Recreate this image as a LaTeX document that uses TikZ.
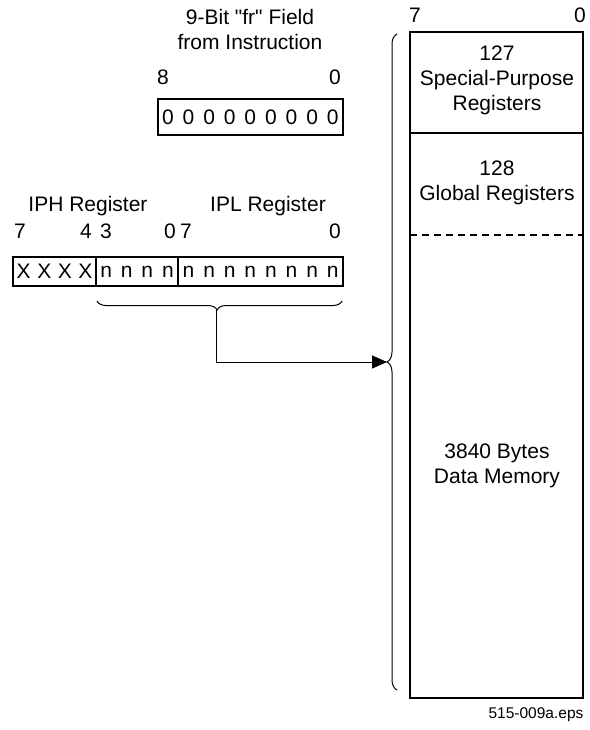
\documentclass[tikz,border=0pt]{standalone}
\usepackage{fontspec}
\setmainfont{Liberation Sans}[Ligatures=TeXOff]
\usepackage{tikz}
\usetikzlibrary{positioning}
\usetikzlibrary{arrows.meta}
\usetikzlibrary{decorations.pathreplacing}

\newcommand{\bitwd}{20.6}

\begin{document}
\begin{tikzpicture}
[   x=1pt, y=-1pt,
    font = \fontsize{21}{25}\selectfont,
    inner sep=0pt,
    outer sep=0pt,
    field/.style={draw, line width=2pt},
    txt/.style={align=center},
    bitnum/.style={anchor=center},
    curly/.style={decorate, line width=1pt}
]

\useasboundingbox (0,0) rectangle (589,730);

% fr field from the instruction
\node[txt] (frtitle) at (250,29.5) {9-Bit "fr" Field\\from Instruction};
\node[bitnum] (fr8) at (163,77) {8};
\node[bitnum] (fr0) at (335,77) {0};
\node[field, anchor=north east, minimum width=9*\bitwd, minimum height=36] (fr) at (343,99) {};
\foreach \i in {0,...,8}
    \node at ([xshift={(\i+0.5)*\bitwd}]fr.west) {0};

% IPH / IPL registers
\node[txt] (iphtitle) at (88,206) {IPH Register};
\node[txt] (ipltitle) at (268,206) {IPL Register};
\node[field, anchor=north west, minimum width=4*\bitwd, minimum height=29] (iphx) at (13.4,257) {};
\node[field, right=0pt of iphx, minimum width=4*\bitwd, minimum height=29] (iphn) {};
\node[field, right=0pt of iphn, minimum width=8*\bitwd, minimum height=29] (ipl) {};
\foreach \i in {0,...,3} {
    \node at ([xshift={(\i+0.5)*\bitwd}]iphx.west) {X};
    \node at ([xshift={(\i+0.5)*\bitwd}]iphn.west) {n};
}
\foreach \i in {0,...,7}
    \node at ([xshift={(\i+0.5)*\bitwd}]ipl.west) {n};
\node[bitnum] (iph7) at (20,231) {7};
\node[bitnum] (iph4) at (86,231) {4};
\node[bitnum] (iph3) at (106,231) {3};
\node[bitnum] (iph0) at (170,231) {0};
\node[bitnum] (ipl7) at (186,231) {7};
\node[bitnum] (ipl0) at (335,231) {0};

% data memory
\node[bitnum] (mem7) at (415,15) {7};
\node[bitnum] (mem0) at (580,15) {0};
\node[field, anchor=north west, minimum width=173, minimum height=666] (mem) at (410,32) {};
\draw[field] (mem.west |- 0,133) -- (mem.east |- 0,133);
\draw[field, dash pattern=on 7pt off 5pt] (mem.west |- 0,235) -- (mem.east |- 0,235);
\node[txt] (sfr) at (497,80.5) {127\\Special-Purpose\\Registers};
\node[txt] (gpr) at (497,182.5) {128\\Global Registers};
\node[txt] (ram) at (497,466) {3840 Bytes\\Data Memory};

% braces and connector
\draw[curly, decoration={brace, amplitude=9pt, aspect=0.51}] (342,301) -- (97,301);
\draw[curly, decoration={brace, amplitude=10pt}] (397,690) -- (397,34);
\coordinate (regtip) at (216,310);
\coordinate (memtip) at (387,362);
\draw[line width=1pt, -{Triangle[length=15pt, width=13pt]}] (regtip) |- (memtip);

\node[font=\fontsize{15.5}{18}\selectfont] (fname) at (536,715) {515-009a.eps};
\end{tikzpicture}
\end{document}
